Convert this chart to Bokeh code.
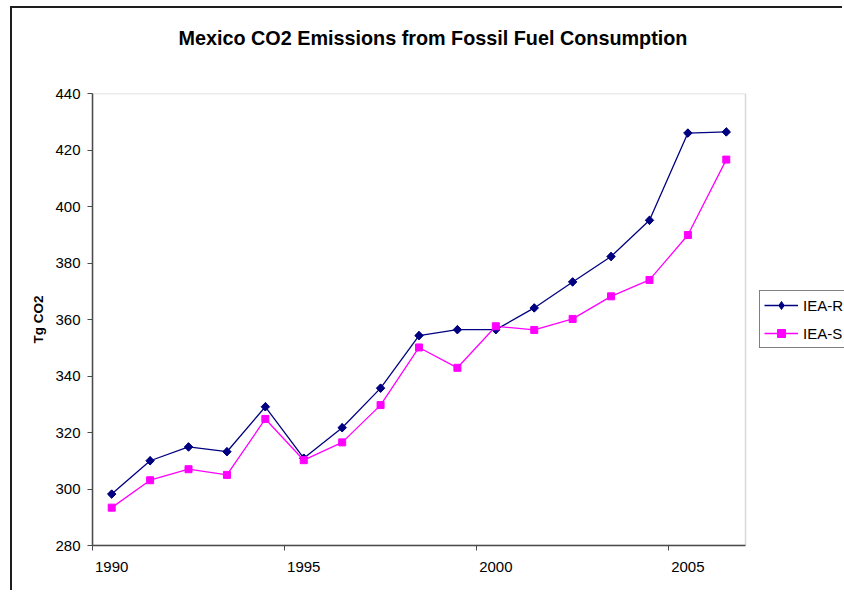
import numpy as np
from bokeh.plotting import figure
from bokeh.models import (Range1d, FixedTicker, Legend, LegendItem, Title,
                          BoxAnnotation)
from bokeh.embed import file_html
from bokeh.resources import INLINE

# ---- data ----
years = list(range(1990, 2007))
iea_r = [298.2, 310.0, 314.9, 313.2, 329.1, 310.9, 321.7, 335.7, 354.3,
         356.4, 356.4, 364.1, 373.3, 382.3, 395.1, 426.0, 426.4]
iea_s = [293.4, 303.1, 307.0, 305.0, 324.8, 310.2, 316.5, 329.7, 350.1,
         342.9, 357.6, 356.3, 360.2, 368.2, 374.0, 389.9, 416.6]
series_names = ["IEA-R", "IEA-S"]
y_ticks = [280, 300, 320, 340, 360, 380, 400, 420, 440]
x_label_years = [1990, 1995, 2000, 2005]
title_text = "Mexico CO2 Emissions from Fossil Fuel Consumption"
y_label = "Tg CO2"

FONT = "Liberation Sans"
AXIS_COLOR = "#4a4a4a"
NAVY = "#000080"
MAGENTA = "#FF00FF"

# ---- layout (pixels) ----
W, H = 832, 584
LEFT, TOP, BOTTOM = 80, 85, 47
PLOT_AREA_PX = 653           # width of the drawn plot area
FRAME_PX = W - LEFT          # frame reaches the right edge (legend lives there)

x0, x1 = years[0] - 0.5, years[-1] + 0.5
x_end = x0 + (x1 - x0) * FRAME_PX / PLOT_AREA_PX

p = figure(width=W, height=H, output_backend="svg", toolbar_location=None,
           x_range=Range1d(x0, x_end),
           y_range=Range1d(y_ticks[0], y_ticks[-1]),
           min_border_left=LEFT, min_border_right=0,
           min_border_top=TOP, min_border_bottom=BOTTOM)
# outer chart-area border (top and left edges visible in the reference)
p.styles = {"margin-left": "12px", "margin-top": "8px",
            "box-shadow": "-2px -2px 0 0 #1e1e1e"}
p.background_fill_color = "white"
p.border_fill_color = "white"
p.outline_line_color = None
p.xgrid.grid_line_color = None
p.ygrid.grid_line_color = None

# plot-area border (gray), drawn under the axes
p.add_layout(BoxAnnotation(left=x0, right=x1, bottom=y_ticks[0], top=y_ticks[-1],
                           fill_alpha=0, line_color="#808080", line_width=1.5,
                           level="underlay"))

# x axis: labels at category centres, tick marks at category boundaries
xa = p.xaxis[0]
xa.bounds = (x0, x1)
xa.ticker = FixedTicker(ticks=x_label_years,
                        minor_ticks=[y - 0.5 for y in x_label_years])
xa.major_tick_line_color = None
xa.major_tick_out = 0
xa.major_tick_in = 0
xa.minor_tick_line_color = AXIS_COLOR
xa.minor_tick_out = 5
xa.minor_tick_in = 0
xa.axis_line_color = AXIS_COLOR
xa.axis_line_width = 1.5
xa.major_label_text_font = FONT
xa.major_label_text_font_size = "15px"
xa.major_label_text_color = "black"
xa.major_label_standoff = 11

ya = p.yaxis[0]
ya.ticker = FixedTicker(ticks=y_ticks)
ya.major_tick_out = 5
ya.major_tick_in = 0
ya.major_tick_line_color = AXIS_COLOR
ya.minor_tick_line_color = None
ya.axis_line_color = AXIS_COLOR
ya.axis_line_width = 1.5
ya.major_label_text_font = FONT
ya.major_label_text_font_size = "15px"
ya.major_label_text_color = "black"
ya.major_label_standoff = 7
ya.axis_label = y_label
ya.axis_label_text_font = FONT
ya.axis_label_text_font_style = "bold"
ya.axis_label_text_font_size = "13.5px"
ya.axis_label_text_color = "black"
ya.axis_label_standoff = 6

r_line = p.line(years, iea_r, line_color=NAVY, line_width=1.3)
# diamond key (used by the legend, which does not rotate markers);
# it sits fully under the rotated-square markers drawn next
r_key = p.scatter(years, iea_r, marker="diamond", size=8,
                  fill_color=NAVY, line_color=NAVY)
r_pts = p.scatter(years, iea_r, marker="square", angle=np.pi / 4, size=6,
                  fill_color=NAVY, line_color=NAVY)
s_line = p.line(years, iea_s, line_color=MAGENTA, line_width=1.3)
s_pts = p.scatter(years, iea_s, marker="square", size=7,
                  fill_color=MAGENTA, line_color=MAGENTA)

legend = Legend(items=[LegendItem(label=series_names[0], renderers=[r_line, r_key]),
                       LegendItem(label=series_names[1], renderers=[s_line, s_pts])],
                location=(PLOT_AREA_PX + 14, 197), margin=0, padding=4,
                spacing=8, glyph_width=34, glyph_height=20, label_height=20,
                label_standoff=5, label_text_font=FONT,
                label_text_font_size="15px", label_text_color="black",
                border_line_color="black", border_line_width=1,
                background_fill_color="white", background_fill_alpha=1)
p.add_layout(legend)

# title: a thin spacer next to the frame, then the real title above it
spacer = Title(text=" ", text_font_size="1px", standoff=21)
p.add_layout(spacer, "above")
main_title = Title(text=title_text, align="left", offset=86,
                   vertical_align="top", standoff=37,
                   text_font=FONT, text_font_style="bold",
                   text_font_size="19.8px", text_color="black")
p.add_layout(main_title, "above")

open("out.html", "w").write(file_html(p, INLINE))
